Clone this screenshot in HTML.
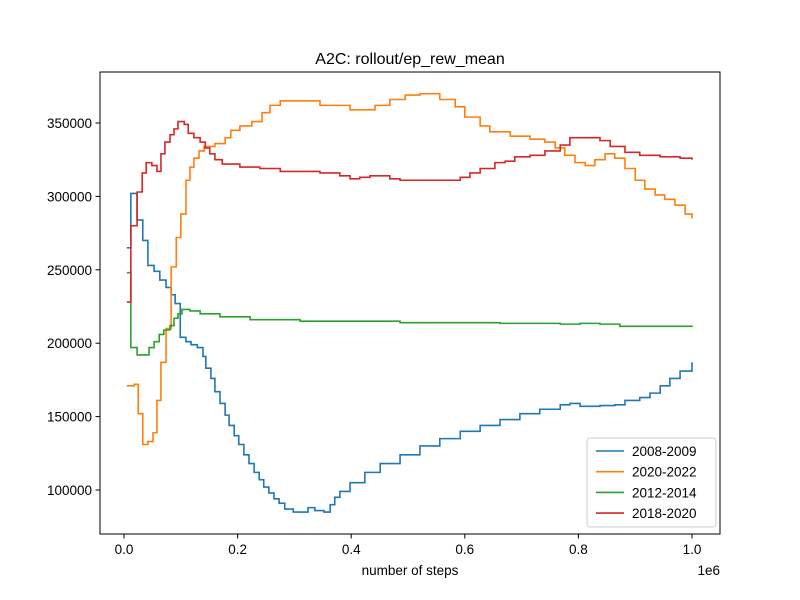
<!DOCTYPE html>
<html><head><meta charset="utf-8"><style>
body{margin:0;background:#fff}
svg{display:block;font-family:"Liberation Sans","DejaVu Sans",sans-serif}
</style></head><body>
<svg id="chart" width="800" height="600" xmlns="http://www.w3.org/2000/svg">
<rect width="800" height="600" fill="#fff"/>
<text x="410" y="64" text-anchor="middle" font-size="16">A2C: rollout/ep_rew_mean</text>
<g id="plot"></g>
<rect x="100" y="72" width="620" height="462" fill="none" stroke="#000" stroke-width="1"/>
<text x="410" y="575" text-anchor="middle" font-size="13.5">number of steps</text>
<text x="720" y="575" text-anchor="end" font-size="13.5">1e6</text>
<g id="legend"></g>
</svg>
<script>
const xTicks=[0,0.2,0.4,0.6,0.8,1.0];
const xTickLabels=["0.0","0.2","0.4","0.6","0.8","1.0"];
const yTicks=[100000,150000,200000,250000,300000,350000];
const yTickLabels=["100000","150000","200000","250000","300000","350000"];
const seriesNames=["2008-2009","2020-2022","2012-2014","2018-2020"];
const seriesColors=["#1f77b4","#ff7f0e","#2ca02c","#d62728"];
const blueX=[.005,.012,.023,.033,.042,.053,.063,.074,.083,.090,.099,.109,.118,.129,.139,.144,.153,.160,.169,.178,.185,.194,.202,.211,.220,.229,.238,.246,.255,.264,.273,.283,.298,.324,.336,.352,.363,.371,.380,.398,.424,.451,.486,.521,.556,.592,.627,.662,.697,.732,.768,.785,.803,.838,.864,.882,.908,.926,.944,.961,.979,1.0];
const blueY=[265000,302000,284000,270000,253000,249000,243000,238000,233000,227000,204000,201000,199000,197000,191000,183000,176000,167000,159000,151000,144000,137000,131000,124000,118000,112000,107000,102000,98000,94000,91000,87000,85000,88000,86000,85000,90000,95000,99000,105000,112000,118000,124000,130000,135000,140000,144000,148000,152000,155000,158000,159000,157000,157500,158000,161000,163000,166000,171000,176000,181000,187000];
const orangeX=[.005,.018,.025,.033,.042,.051,.058,.065,.074,.083,.092,.100,.109,.116,.123,.132,.141,.160,.178,.188,.204,.225,.243,.257,.275,.310,.345,.398,.424,.442,.468,.495,.521,.556,.583,.600,.627,.644,.680,.715,.741,.759,.776,.794,.812,.829,.847,.864,.882,.900,.917,.935,.952,.970,.988,1.0];
const orangeY=[171000,172000,152000,131000,133000,139000,161000,187000,210000,252000,272000,288000,311000,320000,326000,331000,334000,336000,340000,345000,348000,351000,357000,362000,365000,365000,362000,359000,359000,362000,366000,369000,370000,366000,361000,354000,348000,344000,341000,339000,337000,333000,328000,323000,321000,325000,329000,326000,319000,311000,305000,301000,298000,294000,288000,285000];
const greenX=[.005,.012,.023,.037,.044,.053,.062,.070,.081,.088,.095,.102,.116,.134,.169,.222,.310,.486,.662,.768,.803,.838,.873,1.0];
const greenY=[248000,197000,192000,192000,197000,201000,206000,209000,212000,217000,220000,223000,222000,220000,218000,216000,215000,214000,213500,213000,213500,213000,211500,211000];
const redX=[.005,.012,.023,.032,.039,.049,.058,.065,.072,.081,.088,.095,.106,.113,.123,.134,.143,.151,.160,.173,.204,.239,.275,.310,.345,.380,.398,.415,.433,.451,.468,.486,.521,.556,.592,.609,.627,.653,.671,.688,.715,.741,.768,.785,.812,.838,.856,.882,.908,.944,.979,1.0];
const redY=[228000,280000,303000,316000,323000,321000,317000,329000,337000,342000,346000,351000,349000,343000,340000,337000,333000,329000,325000,322000,320000,319000,317000,317000,316000,314000,312000,313000,314000,314000,312000,311000,311000,311000,313000,316000,319000,323000,324000,327000,328000,331000,335000,340000,340000,338000,334000,330000,328000,327000,326000,325000];

const NS="http://www.w3.org/2000/svg";
const X0=100,X1=720,Y0=534,Y1=72,XMIN=-0.0423,XMAX=1.0493,YMIN=70030,YMAX=384740;
function sx(v){return X0+(v-XMIN)/(XMAX-XMIN)*(X1-X0);}
function sy(v){return Y0-(v-YMIN)/(YMAX-YMIN)*(Y0-Y1);}
const svg=document.getElementById('chart');
const plot=document.getElementById('plot');
function mk(tag,attrs,parent){const e=document.createElementNS(NS,tag);for(const k in attrs)e.setAttribute(k,attrs[k]);parent.appendChild(e);return e;}
xTicks.forEach((t,i)=>{
  const l=mk('line',{x1:sx(t),x2:sx(t),y1:534,y2:538.5,stroke:'#000'},svg);
  
  
  const tx=mk('text',{x:sx(t),y:554,'text-anchor':'middle','font-size':'13.5'},svg);
  tx.textContent=xTickLabels[i];
  
  
});
yTicks.forEach((t,i)=>{
  const l=mk('line',{x1:95.5,x2:100,y1:sy(t),y2:sy(t),stroke:'#000'},svg);
  
  
  const tx=mk('text',{x:92,y:sy(t)+5,'text-anchor':'end','font-size':'13.5'},svg);
  tx.textContent=yTickLabels[i];
  
  
});
const allX=[blueX,orangeX,greenX,redX],allY=[blueY,orangeY,greenY,redY];
const lineNames=['series-2008-2009','series-2020-2022','series-2012-2014','series-2018-2020'];
allX.forEach((xs,s)=>{
  const ys=allY[s];let d='M'+sx(xs[0])+','+sy(ys[0]);
  for(let i=1;i<xs.length;i++){d+=' H'+sx(xs[i])+' V'+sy(ys[i]);}
  const p=mk('path',{d:d,fill:'none',stroke:seriesColors[s],'stroke-width':'1.6'},plot);
  
  
});
const lg=document.getElementById('legend');
const box=mk('rect',{x:587,y:438,width:129,height:89,rx:3,fill:'#fff','fill-opacity':'0.8',stroke:'#ccc'},lg);


seriesNames.forEach((n,i)=>{
  const y=451+i*20.7;
  const l=mk('line',{x1:596,x2:624,y1:y,y2:y,stroke:seriesColors[i],'stroke-width':'1.6'},lg);
  
  
  const t=mk('text',{x:632,y:y+5,'font-size':'13.5'},lg);
  t.textContent=n;
  
  
});
</script>
</body></html>
